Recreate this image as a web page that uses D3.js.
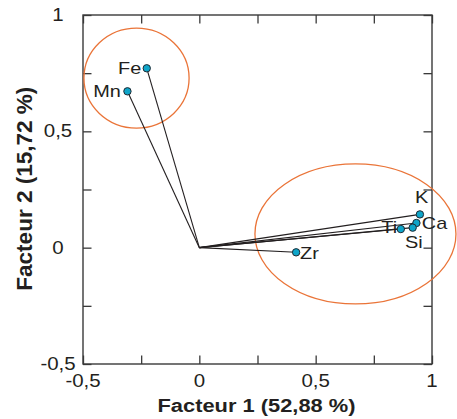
<!DOCTYPE html>
<html><head><meta charset="utf-8">
<script src="https://cdn.jsdelivr.net/npm/d3@7"></script>
<style>body{margin:0;background:#fff}svg{display:block}text{font-family:"Liberation Sans",Arial,sans-serif;fill:#231f20}</style>
</head><body><svg id="c" width="457" height="419"></svg>
<script>
// Data
const variables = ["Fe","Mn","K","Ca","Si","Ti","Zr"];
const factor1 = [-0.226,-0.309,0.948,0.933,0.917,0.866,0.416];
const factor2 = [0.771,0.672,0.143,0.106,0.086,0.080,-0.020];
const groupCx = [-0.270, 0.671];
const groupCy = [0.729, 0.059];
const groupRx = [0.226, 0.432];
const groupRy = [0.215, 0.301];
const tickValues = [-0.5,-0.25,0,0.25,0.5,0.75,1];
const tickLabelValues = [-0.5,0,0.5,1];
const tickLabelText = ["-0,5","0","0,5","1"];
const xTitle = "Facteur 1 (52,88 %)";
const yTitle = "Facteur 2 (15,72 %)";

// label placement (styling)
const labelPlace = {
  Fe:{anchor:"end",dx:-5.5,dy:5.7},
  Mn:{anchor:"end",dx:-6.5,dy:5.4},
  K:{anchor:"middle",dx:1.7,dy:-11.6},
  Ca:{anchor:"start",dx:5.4,dy:6.3},
  Ti:{anchor:"end",dx:-3.7,dy:3.7},
  Si:{anchor:"start",dx:-7.7,dy:20.6},
  Zr:{anchor:"start",dx:4,dy:7}
};

const SX = 1.17;
const svg = d3.select("#c");
const L=83, R=432, T=15, B=364;
const x = d3.scaleLinear().domain([-0.5,1]).range([L,R]);
const y = d3.scaleLinear().domain([-0.5,1]).range([B,T]);

function txt(px,py,s,size,weight,anchor,extra){
  return svg.append("text")
    .attr("transform",`translate(${px},${py}) scale(${SX},1)` + (extra||""))
    .attr("text-anchor",anchor).style("font-size",size+"px").style("font-weight",weight).text(s);
}

// axes with inward ticks
const tl = 8.5;
const axStroke = "#3a3a3a";
const gB = svg.append("g").attr("transform",`translate(0,${B})`).call(d3.axisBottom(x).tickValues(tickValues).tickSize(-tl).tickFormat(""));
const gT = svg.append("g").attr("transform",`translate(0,${T})`).call(d3.axisTop(x).tickValues(tickValues).tickSize(-tl).tickFormat(""));
const gL = svg.append("g").attr("transform",`translate(${L},0)`).call(d3.axisLeft(y).tickValues(tickValues).tickSize(-tl).tickFormat(""));
const gR = svg.append("g").attr("transform",`translate(${R},0)`).call(d3.axisRight(y).tickValues(tickValues).tickSize(-tl).tickFormat(""));
[gB,gT,gL,gR].forEach(g=>{g.select(".domain").remove();g.selectAll("line").attr("stroke",axStroke).attr("stroke-width",1.3);});
svg.append("rect").attr("x",L).attr("y",T).attr("width",R-L).attr("height",B-T)
  .attr("fill","none").attr("stroke",axStroke).attr("stroke-width",1.4);

// tick labels
tickLabelValues.forEach((v,i)=>{
  txt(x(v),387,tickLabelText[i],17.5,"normal","middle");
  txt(58,y(v)+6,tickLabelText[i],17.5,"normal","middle");
});

// titles
txt(256.5,411.5,xTitle,19,"bold","middle").attr("textLength",198/SX).attr("lengthAdjust","spacingAndGlyphs");
svg.append("text").attr("transform",`translate(31.5,188.7) scale(${SX},1) rotate(-90)`)
  .attr("text-anchor","middle").style("font-size","19.5px").style("font-weight","bold")
  .attr("textLength",204).attr("lengthAdjust","spacingAndGlyphs").text(yTitle);

// ellipses
groupCx.forEach((cx,i)=>{
  svg.append("ellipse").attr("cx",x(cx)).attr("cy",y(groupCy[i]))
    .attr("rx",x(groupRx[i])-x(0)).attr("ry",y(0)-y(groupRy[i]))
    .attr("fill","none").attr("stroke","#ea7438").attr("stroke-width",1.3);
});

// vectors
variables.forEach((v,i)=>{
  svg.append("line").attr("x1",x(0)).attr("y1",y(0)).attr("x2",x(factor1[i])).attr("y2",y(factor2[i]))
    .attr("stroke","#231f20").attr("stroke-width",1.1);
});
variables.forEach((v,i)=>{
  svg.append("circle").attr("cx",x(factor1[i])).attr("cy",y(factor2[i])).attr("r",3.7)
    .attr("fill","#0ea5c9").attr("stroke","#1f2a33").attr("stroke-width",1);
});
variables.forEach((v,i)=>{
  const p = labelPlace[v];
  txt(x(factor1[i])+p.dx, y(factor2[i])+p.dy, v, 17, "normal", p.anchor);
});
</script></body></html>
